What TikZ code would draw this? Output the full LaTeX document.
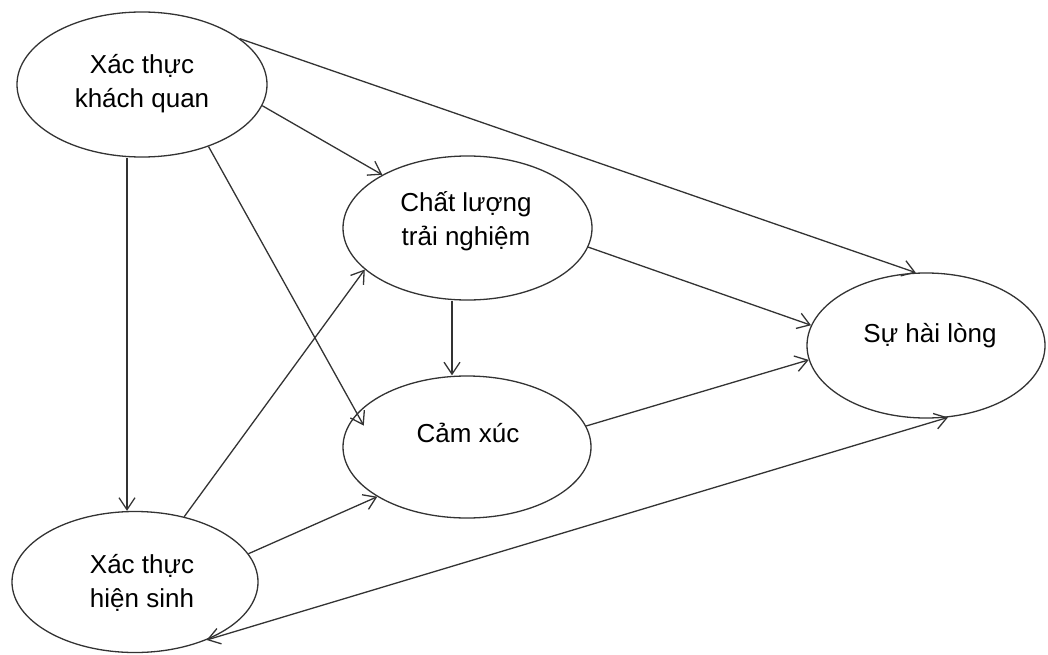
\documentclass[tikz,border=0pt]{standalone}
\usepackage{fontspec}
\setmainfont{Liberation Sans}
\usetikzlibrary{arrows.meta,shapes.geometric}
\begin{document}
\begin{tikzpicture}[x=1pt,y=-1pt,
  oval/.style={draw=black!80,line width=1.3pt,ellipse,inner sep=0pt},
  lbl/.style={font=\fontsize{26}{34}\selectfont,align=center,inner sep=0pt,anchor=base},
  arr/.style={draw=black!80,line width=1.3pt,-{Straight Barb[length=12pt,width=16pt]}},
  biarr/.style={draw=black!80,line width=1.3pt,{Straight Barb[length=12pt,width=16pt]}-{Straight Barb[length=12pt,width=16pt]}},
]
\useasboundingbox (0,0) rectangle (1048,655);

% constructs
\node[oval,minimum width=250pt,minimum height=145pt] (k) at (142,84.5) {};
\node[oval,minimum width=249pt,minimum height=144pt] (q) at (467.5,228) {};
\node[oval,minimum width=248pt,minimum height=142pt] (c) at (467,447) {};
\node[oval,minimum width=238pt,minimum height=145pt] (s) at (926,345.5) {};
\node[oval,minimum width=246pt,minimum height=141pt] (h) at (135,582) {};

% labels (base anchor sits on the last line)
\node[lbl] (k-t) at (142,108) {Xác thực\\khách quan};
\node[lbl] (q-t) at (466,245) {Chất lượng\\trải nghiệm};
\node[lbl] (c-t) at (468,442) {Cảm xúc};
\node[lbl] (s-t) at (930,342) {Sự hài lòng};
\node[lbl] (h-t) at (142,607) {Xác thực\\hiện sinh};

% paths
\coordinate (k-down) at ([xshift=-15pt]k.south);
\coordinate (q-down) at ([xshift=-15.5pt]q.south);
\draw[arr] (k.25.7) -- (s.98.7);
\draw[arr] (k.-10.5) -- (q.148.1);
\draw[arr,shorten >=-14pt] (k.-43.2) -- (c.163.6);
\draw[arr] (k-down) -- (k-down |- h.north);
\draw[arr] (h.53.3) -- (q.-158.5);
\draw[arr] (h.14.5) -- (c.-151.5);
\draw[arr] (q-down) -- (q-down |- c.north);
\draw[arr] (q.-9.9) -- (s.170.2);
\draw[arr] (c.10) -- (s.-173);
\draw[biarr] (h.-39) -- (s.-73.1);
\end{tikzpicture}
\end{document}
